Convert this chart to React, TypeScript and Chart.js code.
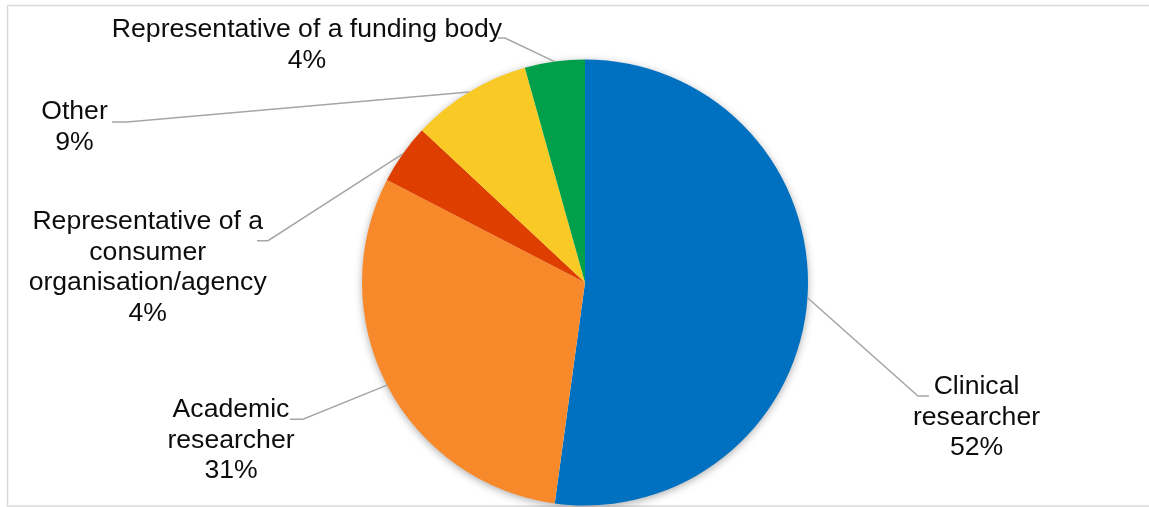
import React, { useEffect, useRef } from "react";
import { Chart, registerables } from "chart.js";

Chart.register(...registerables);

// ---- data ----
const categories = [
  "Clinical researcher",
  "Academic researcher",
  "Representative of a consumer organisation/agency",
  "Other",
  "Representative of a funding body",
];
const labelLines = [
  ["Clinical", "researcher"],
  ["Academic", "researcher"],
  ["Representative of a", "consumer", "organisation/agency"],
  ["Other"],
  ["Representative of a funding body"],
];
const values = [52.17, 30.43, 4.35, 8.7, 4.35];
const percentLabels = ["52%", "31%", "4%", "9%", "4%"];
const colors = ["#0070C0", "#F7892A", "#DE3E00", "#F9CA26", "#00A04B"];

// ---- label layout (relative to pie centre) ----
// tx,ty: text centre / first line centre; ex,ey: leader elbow; hx: end of horizontal segment
const labelLayout = [
  { tx: 391.5, ty: 104.5, ex: 333, ey: 113.5, hx: 344 },
  { tx: -354, ty: 127.5, ex: -282, ey: 136.8, hx: -295 },
  { tx: -437.3, ty: -60.5, ex: -317, ey: -41.8, hx: -328 },
  { tx: -510.5, ty: -170.5, ex: -458, ey: -160.5, hx: -473 },
  { tx: -278, ty: -252.5, ex: -80, ey: -244.5, hx: -87 },
];

const FONT = '26.6px "Liberation Sans", Arial, sans-serif';
const LINE_H = 30.5;

const decorPlugin = {
  id: "pieDecor",
  beforeDraw(chart: any) {
    const ctx = chart.ctx;
    ctx.save();
    ctx.fillStyle = "#ffffff";
    ctx.fillRect(0, 0, chart.width, chart.height);
    ctx.strokeStyle = "#d9d9d9";
    ctx.lineWidth = 1.5;
    ctx.strokeRect(7.5, 5.5, chart.width + 10, 500.5);
    ctx.restore();
  },
  beforeDatasetsDraw(chart: any) {
    const meta = chart.getDatasetMeta(0);
    const arc = meta.data[0];
    if (!arc) return;
    const { x, y, outerRadius } = arc.getProps(["x", "y", "outerRadius"], true);
    const ctx = chart.ctx;
    ctx.save();
    ctx.shadowColor = "rgba(0,0,0,0.35)";
    ctx.shadowBlur = 9;
    ctx.shadowOffsetX = 0;
    ctx.shadowOffsetY = 2;
    ctx.fillStyle = "#ffffff";
    ctx.beginPath();
    ctx.arc(x, y, outerRadius - 0.5, 0, Math.PI * 2);
    ctx.fill();
    ctx.restore();
  },
  afterDatasetsDraw(chart: any) {
    const meta = chart.getDatasetMeta(0);
    const ctx = chart.ctx;
    meta.data.forEach((arc: any, i: number) => {
      const { x, y, startAngle, endAngle, outerRadius } = arc.getProps(
        ["x", "y", "startAngle", "endAngle", "outerRadius"],
        true
      );
      const mid = (startAngle + endAngle) / 2;
      const px = x + Math.cos(mid) * outerRadius;
      const py = y + Math.sin(mid) * outerRadius;
      const L = labelLayout[i];
      ctx.save();
      ctx.strokeStyle = "#a6a6a6";
      ctx.lineWidth = 1.5;
      ctx.beginPath();
      ctx.moveTo(px, py);
      ctx.lineTo(x + L.ex, y + L.ey);
      ctx.lineTo(x + L.hx, y + L.ey);
      ctx.stroke();

      ctx.fillStyle = "#0d0d0d";
      ctx.font = FONT;
      ctx.textAlign = "center";
      ctx.textBaseline = "middle";
      const lines = [...labelLines[i], percentLabels[i]];
      lines.forEach((t, k) => {
        ctx.fillText(t, x + L.tx, y + L.ty + k * LINE_H);
      });
      ctx.restore();
    });
  },
};

export default function App() {
  const ref = useRef<HTMLCanvasElement | null>(null);

  useEffect(() => {
    if (!ref.current) return;
    const chart = new Chart(ref.current, {
      type: "pie",
      data: {
        labels: categories,
        datasets: [
          {
            data: values,
            backgroundColor: colors,
            borderWidth: 0,
            hoverBorderWidth: 0,
            offset: 0,
            hoverOffset: 0,
          },
        ],
      },
      options: {
        responsive: false,
        animation: false,
        events: [],
        devicePixelRatio: 1,
        layout: { padding: { top: 59.5, bottom: 1.5, left: 100, right: 79 } },
        plugins: {
          legend: { display: false },
          tooltip: { enabled: false },
        },
      },
      plugins: [decorPlugin],
    } as any);
    return () => chart.destroy();
  }, []);

  return (
    <div style={{ position: "absolute", left: 0, top: 0, width: 1149, height: 507, background: "#fff" }}>
      <canvas ref={ref} width={1149} height={507} style={{ display: "block" }} />
    </div>
  );
}
